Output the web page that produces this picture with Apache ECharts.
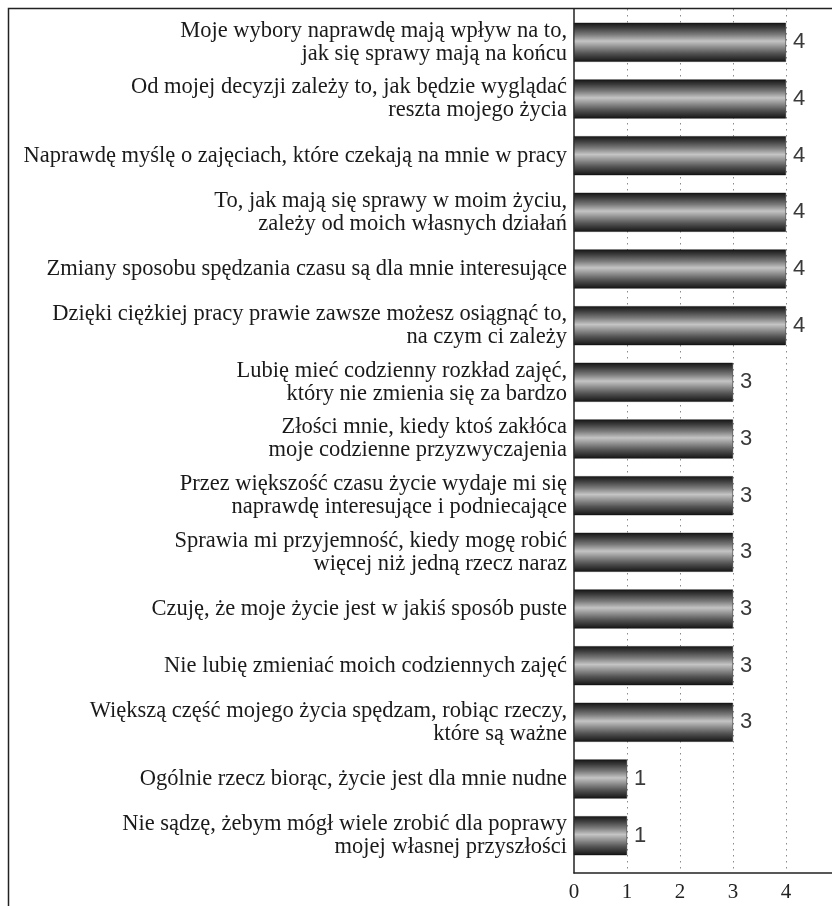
<!DOCTYPE html>
<html>
<head>
<meta charset="utf-8">
<script src="https://cdn.jsdelivr.net/npm/echarts@6/dist/echarts.min.js"></script>
<style>
html,body{margin:0;padding:0;background:#fff;}
#chart{width:832px;height:906px;}
</style>
</head>
<body>
<div id="chart"></div>
<script>
const categories = [
  "Moje wybory naprawdę mają wpływ na to,\njak się sprawy mają na końcu",
  "Od mojej decyzji zależy to, jak będzie wyglądać\nreszta mojego życia",
  "Naprawdę myślę o zajęciach, które czekają na mnie w pracy",
  "To, jak mają się sprawy w moim życiu,\nzależy od moich własnych działań",
  "Zmiany sposobu spędzania czasu są dla mnie interesujące",
  "Dzięki ciężkiej pracy prawie zawsze możesz osiągnąć to,\nna czym ci zależy",
  "Lubię mieć codzienny rozkład zajęć,\nktóry nie zmienia się za bardzo",
  "Złości mnie, kiedy ktoś zakłóca\nmoje codzienne przyzwyczajenia",
  "Przez większość czasu życie wydaje mi się\nnaprawdę interesujące i podniecające",
  "Sprawia mi przyjemność, kiedy mogę robić\nwięcej niż jedną rzecz naraz",
  "Czuję, że moje życie jest w jakiś sposób puste",
  "Nie lubię zmieniać moich codziennych zajęć",
  "Większą część mojego życia spędzam, robiąc rzeczy,\nktóre są ważne",
  "Ogólnie rzecz biorąc, życie jest dla mnie nudne",
  "Nie sądzę, żebym mógł wiele zrobić dla poprawy\nmojej własnej przyszłości"
];
const values = [4, 4, 4, 4, 4, 4, 3, 3, 3, 3, 3, 3, 3, 1, 1];
const xTicks = [0, 1, 2, 3, 4];

const FONT = '"Liberation Serif", "DejaVu Serif", serif';
const SANS = '"Liberation Sans", "DejaVu Sans", sans-serif';
const xMax = 4.87;

const chart = echarts.init(document.getElementById('chart'), null, {renderer: 'canvas'});
const barGradient = new echarts.graphic.LinearGradient(0, 0, 0, 1, [
  {offset: 0, color: '#161616'},
  {offset: 0.12, color: '#3a3a3a'},
  {offset: 0.3, color: '#7a7a7a'},
  {offset: 0.47, color: '#c4c4c4'},
  {offset: 0.55, color: '#a8a8a8'},
  {offset: 0.78, color: '#555555'},
  {offset: 1, color: '#141414'}
]);

chart.setOption({
  animation: false,
  backgroundColor: '#ffffff',
  graphic: [{
    type: 'rect',
    shape: {x: 8.5, y: 8.5, width: 900, height: 1000},
    style: {fill: 'none', stroke: '#222', lineWidth: 1.5},
    silent: true,
    z: 100
  }],
  grid: [
    {left: 574, right: 0, top: 14, height: 850},
    {left: 574, right: 0, top: 9, height: 864}
  ],
  xAxis: [
    {
      gridIndex: 0, type: 'value', min: 0, max: xMax, interval: 1,
      show: false
    },
    {
      gridIndex: 1, type: 'value', min: 0, max: xMax, interval: 1,
      axisLine: {show: true, lineStyle: {color: '#222', width: 1.5}},
      axisTick: {show: false},
      axisLabel: {
        show: true, margin: 9, color: '#222', fontFamily: FONT, fontSize: 21,
        showMaxLabel: false,
        formatter: function (v) { return xTicks.indexOf(v) >= 0 ? String(v) : ''; }
      },
      splitLine: {show: true, showMaxLine: false, showMinLine: false,
        lineStyle: {color: '#8a8a8a', width: 1, type: [1.5, 4.5]}}
    }
  ],
  yAxis: [
    {
      gridIndex: 0, type: 'category', data: categories, inverse: true,
      axisLine: {show: false},
      axisTick: {show: false},
      axisLabel: {
        margin: 7, color: '#1a1a1a', fontFamily: FONT, fontSize: 22.5,
        lineHeight: 23, align: 'right'
      }
    },
    {
      gridIndex: 1, type: 'value', min: 0, max: 1,
      axisLine: {show: true, lineStyle: {color: '#222', width: 1.5}},
      axisTick: {show: false},
      axisLabel: {show: false},
      splitLine: {show: false}
    }
  ],
  series: [{
    type: 'bar',
    xAxisIndex: 0,
    yAxisIndex: 0,
    data: values,
    barWidth: 39,
    itemStyle: {color: barGradient, borderColor: '#111', borderWidth: 0.5},
    label: {
      show: true, position: 'right', distance: 7,
      color: '#3a3a3a', fontFamily: SANS, fontSize: 22
    },
    z: 5
  }]
});
</script>
</body>
</html>
